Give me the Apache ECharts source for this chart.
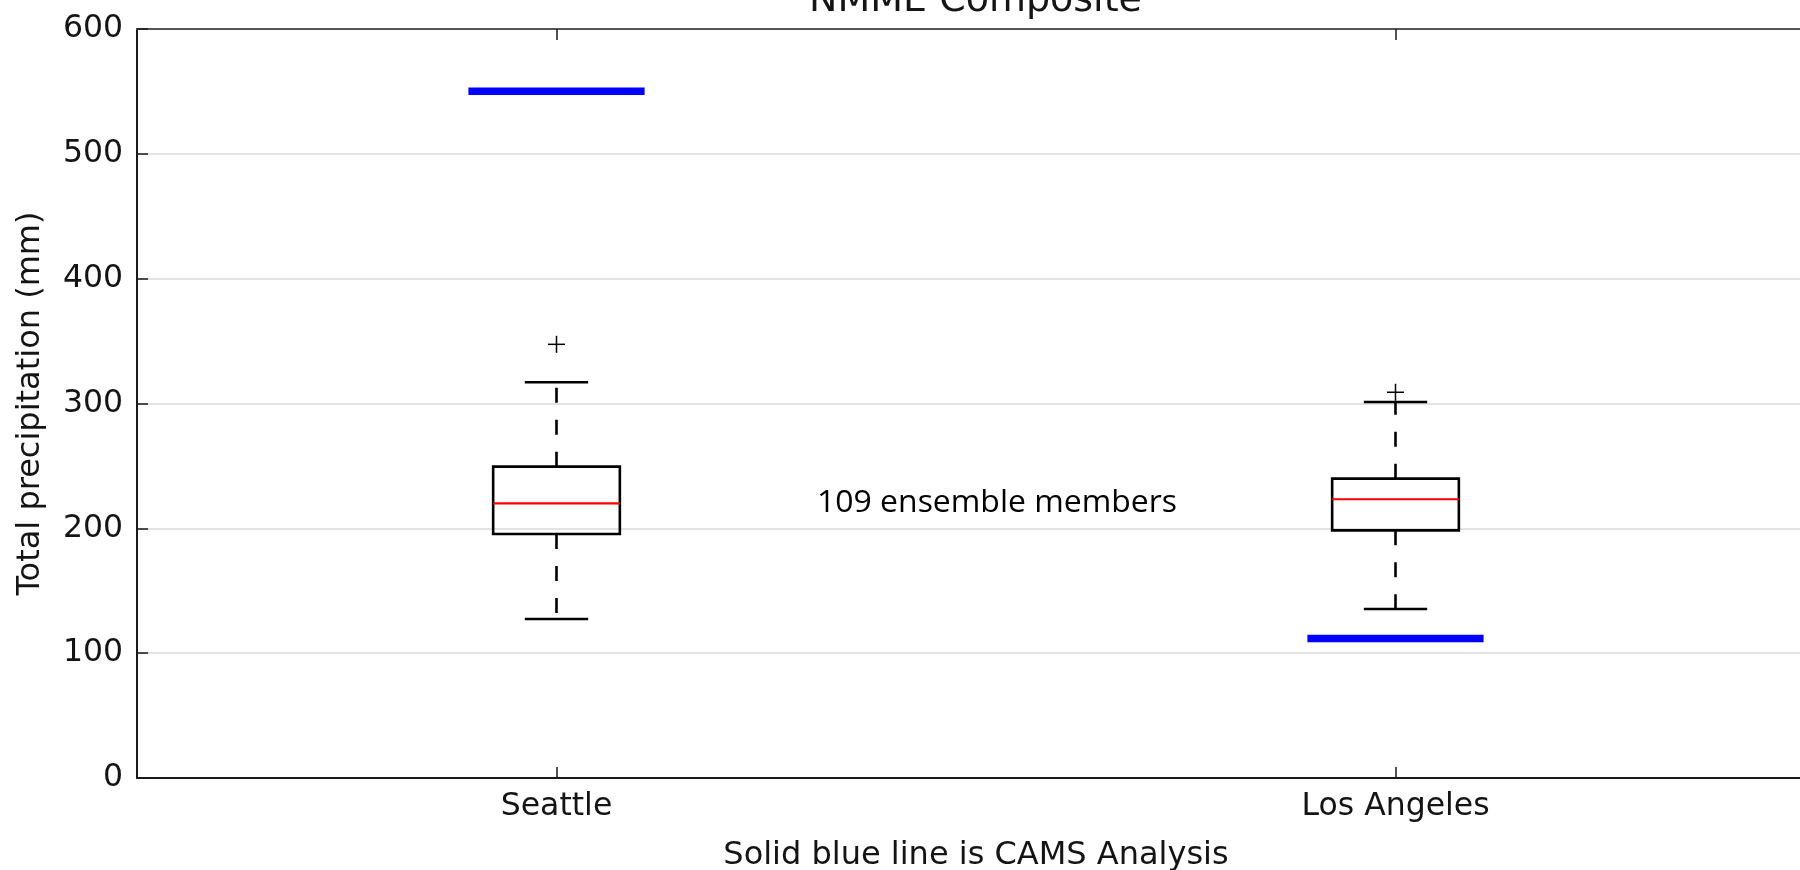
<!DOCTYPE html>
<html><head><meta charset="utf-8">
<script src="https://cdn.jsdelivr.net/npm/echarts@6/dist/echarts.min.js"></script>
<style>html,body{margin:0;padding:0;background:#fff}#chart{width:1800px;height:870px}</style>
</head><body><div id="chart"></div>
<script>
// ---- data ----
const categories = ['Seattle', 'Los Angeles'];
const whiskerLow = [127.4, 135.4];
const q1 = [195.5, 198.4];
const median = [220.0, 223.3];
const q3 = [249.4, 239.8];
const whiskerHigh = [317.0, 301.2];
const outliers = [[347.4], [309.0]];
const camsAnalysis = [550.2, 111.8];
const yMin = 0, yMax = 600, yStep = 100;
const titleText = 'NMME Composite';
const xLabel = 'Solid blue line is CAMS Analysis';
const yLabel = 'Total precipitation (mm)';
const noteText = '109 ensemble members';

// ---- build series data ----
const boxData = categories.map((c, i) => [i, whiskerLow[i], q1[i], median[i], q3[i], whiskerHigh[i]]);
const outlierData = [];
outliers.forEach((arr, i) => arr.forEach(v => outlierData.push([i, v])));
const camsData = camsAnalysis.map((v, i) => [i, v]);

const FONT = 'DejaVu Sans';
const TXT = '#141414';

function renderBox(params, api) {
  const i = api.value(0);
  const band = api.size([1, 0])[0];
  const half = band * 0.151 / 2;
  const capHalf = half / 2;
  const pLow = api.coord([i, api.value(1)]);
  const pQ1 = api.coord([i, api.value(2)]);
  const pMed = api.coord([i, api.value(3)]);
  const pQ3 = api.coord([i, api.value(4)]);
  const pHigh = api.coord([i, api.value(5)]);
  const x = pQ1[0];
  const dashed = { stroke: '#000', lineWidth: 2.6, lineDash: [15, 17], fill: null };
  const solid = { stroke: '#000', lineWidth: 2.6, fill: null };
  return {
    type: 'group',
    children: [
      { type: 'line', shape: { x1: x, y1: pQ3[1], x2: x, y2: pHigh[1] }, style: dashed },
      { type: 'line', shape: { x1: x, y1: pQ1[1], x2: x, y2: pLow[1] }, style: dashed },
      { type: 'line', shape: { x1: x - capHalf, y1: pHigh[1], x2: x + capHalf, y2: pHigh[1] }, style: solid },
      { type: 'line', shape: { x1: x - capHalf, y1: pLow[1], x2: x + capHalf, y2: pLow[1] }, style: solid },
      { type: 'rect', shape: { x: x - half, y: pQ3[1], width: 2 * half, height: pQ1[1] - pQ3[1] }, style: { stroke: '#000', lineWidth: 2.6, fill: 'rgba(0,0,0,0)' } },
      { type: 'line', shape: { x1: x - half, y1: pMed[1], x2: x + half, y2: pMed[1] }, style: { stroke: '#ff0000', lineWidth: 2.2 } }
    ]
  };
}

function renderPlus(params, api) {
  const p = api.coord([api.value(0), api.value(1)]);
  const s = 8.5;
  return {
    type: 'group',
    children: [
      { type: 'line', shape: { x1: p[0] - s, y1: p[1], x2: p[0] + s, y2: p[1] }, style: { stroke: '#000', lineWidth: 1.5 } },
      { type: 'line', shape: { x1: p[0], y1: p[1] - s, x2: p[0], y2: p[1] + s }, style: { stroke: '#000', lineWidth: 1.5 } }
    ]
  };
}

function renderCams(params, api) {
  const p = api.coord([api.value(0), api.value(1)]);
  const band = api.size([1, 0])[0];
  const half = band * 0.105;
  return {
    type: 'line',
    shape: { x1: p[0] - half, y1: p[1], x2: p[0] + half, y2: p[1] },
    style: { stroke: '#0000ff', lineWidth: 7.5 }
  };
}

const chart = echarts.init(document.getElementById('chart'), null, { renderer: 'canvas' });
chart.setOption({
  animation: false,
  backgroundColor: '#fff',
  grid: { left: 137, right: -15, top: 29, bottom: 92, containLabel: false, outerBoundsMode: 'none' },
  xAxis: [
    {
      type: 'category', data: categories, position: 'bottom',
      axisLine: { show: true, lineStyle: { color: '#1a1a1a', width: 2 } },
      axisTick: { show: true, inside: true, length: 11, alignWithLabel: true, lineStyle: { color: '#1a1a1a', width: 1.5 } },
      axisLabel: { fontSize: 31.5, fontFamily: FONT, color: TXT, margin: 13 },
      splitLine: { show: false },
      name: xLabel, nameLocation: 'middle', nameGap: 62,
      nameTextStyle: { fontSize: 32, fontFamily: FONT, color: TXT }
    },
    {
      type: 'category', data: categories, position: 'top',
      axisLine: { show: true, lineStyle: { color: '#555', width: 2 } },
      axisTick: { show: true, inside: true, length: 11, alignWithLabel: true, lineStyle: { color: '#1a1a1a', width: 1.5 } },
      axisLabel: { show: false },
      splitLine: { show: false }
    }
  ],
  yAxis: {
    type: 'value', min: yMin, max: yMax, interval: yStep,
    axisLine: { show: true, lineStyle: { color: '#1a1a1a', width: 2 } },
    axisTick: { show: true, inside: true, length: 11, lineStyle: { color: '#1a1a1a', width: 1.5 } },
    axisLabel: { fontSize: 31.5, fontFamily: FONT, color: TXT, margin: 14 },
    splitLine: { show: true, lineStyle: { color: '#e3e3e3', width: 2 } },
    name: yLabel, nameLocation: 'middle', nameGap: 90, nameRotate: 90,
    nameTextStyle: { fontSize: 32, fontFamily: FONT, color: TXT }
  },
  series: [
    { type: 'custom', name: 'ensemble', renderItem: renderBox, data: boxData, encode: { x: 0, y: [1, 2, 3, 4, 5] }, z: 3 },
    { type: 'custom', name: 'outliers', renderItem: renderPlus, data: outlierData, encode: { x: 0, y: 1 }, z: 3 },
    { type: 'custom', name: 'CAMS Analysis', renderItem: renderCams, data: camsData, encode: { x: 0, y: 1 }, z: 4 }
  ],
  graphic: [
    {
      type: 'text', x: 975.5, y: 1,
      style: { text: titleText, fontSize: 38, fontFamily: FONT, fill: TXT, align: 'center', verticalAlign: 'middle', textAlign: 'center', textVerticalAlign: 'middle' }
    },
    {
      type: 'text', x: 997, y: 503, scaleX: 1.03,
      style: { text: noteText, fontSize: 31, fontFamily: 'Open Sans', fill: '#000', align: 'center', verticalAlign: 'middle', textAlign: 'center', textVerticalAlign: 'middle' }
    }
  ]
});
</script></body></html>
